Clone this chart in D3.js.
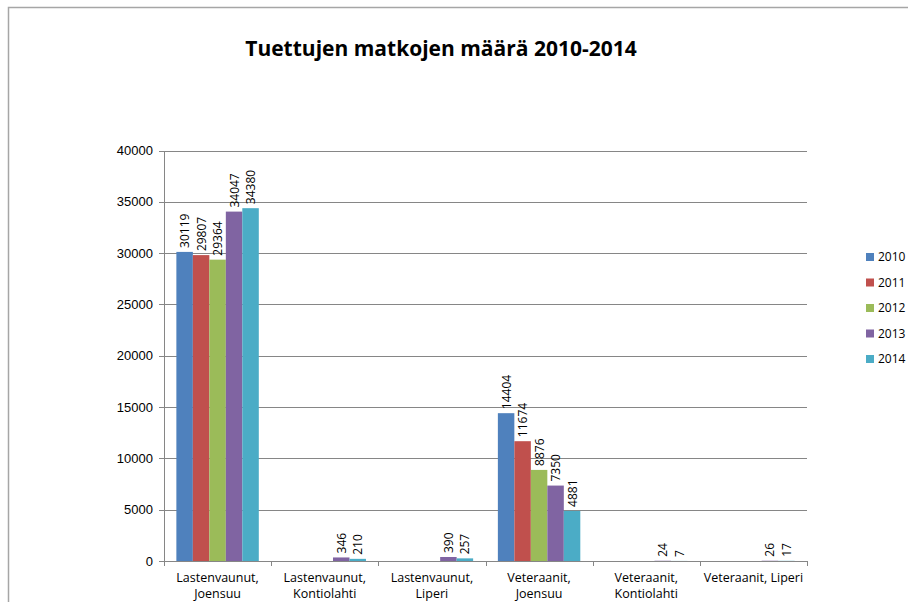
<!DOCTYPE html>
<html lang="fi">
<head>
<meta charset="UTF-8">
<title>Tuettujen matkojen määrä 2010-2014</title>
<script src="https://d3js.org/d3.v7.min.js"></script>
<style>
body { margin: 0; background: #fff; }
svg { font-family: "Open Sans", "Noto Sans", sans-serif; }
.axis path, .axis line { stroke: #868686; shape-rendering: crispEdges; }
.axis text { font-size: 13px; fill: #000; }
.grid line { stroke: #868686; shape-rendering: crispEdges; }
.label { font-size: 12px; fill: #000; }
.legendTxt { font-size: 12px; fill: #000; }
</style>
</head>
<body>
<script>
var width = 908, height = 602;

// data
var categories = ["Lastenvaunut, Joensuu", "Lastenvaunut, Kontiolahti", "Lastenvaunut, Liperi",
                  "Veteraanit, Joensuu", "Veteraanit, Kontiolahti", "Veteraanit, Liperi"];
var years = ["2010", "2011", "2012", "2013", "2014"];
var v2010 = [30119, null, null, 14404, null, null];
var v2011 = [29807, null, null, 11674, null, null];
var v2012 = [29364, null, null, 8876, null, null];
var v2013 = [34047, 346, 390, 7350, 24, 26];
var v2014 = [34380, 210, 257, 4881, 7, 17];
var yTicks = [0, 5000, 10000, 15000, 20000, 25000, 30000, 35000, 40000];
var colors = ["#4F81BD", "#C0504D", "#9BBB59", "#8064A2", "#4BACC6"];

var series = [v2010, v2011, v2012, v2013, v2014];

var svg = d3.select("body").append("svg")
    .attr("width", width)
    .attr("height", height);

// chart frame
svg.append("rect")
    .attr("x", 8.5).attr("y", 7.5)
    .attr("width", 1000).attr("height", 1000)
    .attr("fill", "none").attr("stroke", "#a6a6a6").attr("stroke-width", 1.5);

// title
svg.append("text")
    .attr("x", 441).attr("y", 56)
    .attr("text-anchor", "middle")
    .style("font-size", "21px").style("font-weight", "bold")
    .text("Tuettujen matkojen määrä 2010-2014");

// scales
var x0 = d3.scaleBand().domain(categories).range([164, 807]).padding(0);
var x1 = d3.scaleBand().domain(years).range([0, x0.bandwidth()])
    .paddingInner(0).paddingOuter(0.75);
var y = d3.scaleLinear().domain([0, 40000]).range([561, 150.5]);
var color = d3.scaleOrdinal().domain(years).range(colors);

// gridlines
svg.append("g").attr("class", "grid")
    .selectAll("line").data(yTicks.slice(1)).enter()
    .append("line")
    .attr("x1", 164).attr("x2", 807)
    .attr("y1", function(d) { return Math.round(y(d)) + 0.5; })
    .attr("y2", function(d) { return Math.round(y(d)) + 0.5; });

// y axis
svg.append("g").attr("class", "axis")
    .attr("transform", "translate(164,0)")
    .call(d3.axisLeft(y).tickValues(yTicks).tickSize(5).tickPadding(6).tickFormat(d3.format("d")));

// x axis
var xAxis = svg.append("g").attr("class", "axis")
    .attr("transform", "translate(0,561)")
    .call(d3.axisBottom(x0).tickSize(0).tickFormat(""));
xAxis.selectAll(".tick").remove();
xAxis.selectAll(".sep").data(d3.range(categories.length + 1)).enter()
    .append("line").attr("class", "sep")
    .attr("x1", function(i) { return Math.round(164 + i * x0.step()) + 0.5; })
    .attr("x2", function(i) { return Math.round(164 + i * x0.step()) + 0.5; })
    .attr("y1", 0).attr("y2", 5);

// category labels, wrapped at the space when too wide
var catLabels = svg.append("g").selectAll("text")
    .data(categories).enter()
    .append("text")
    .attr("class", "label")
    .style("font-size", "12.5px")
    .attr("text-anchor", "middle")
    .attr("x", function(d) { return x0(d) + x0.bandwidth() / 2; })
    .attr("y", 582)
    .text(function(d) { return d; });
catLabels.each(function(d) {
    var t = d3.select(this);
    if (this.getComputedTextLength() > x0.bandwidth()) {
        var parts = d.split(" ");
        t.text(null);
        parts.forEach(function(p, i) {
            t.append("tspan")
                .attr("x", x0(d) + x0.bandwidth() / 2)
                .attr("dy", i === 0 ? 0 : 16)
                .text(p);
        });
    }
});

// bars
var rows = [];
categories.forEach(function(c, ci) {
    years.forEach(function(yr, si) {
        if (series[si][ci] != null) rows.push({cat: c, year: yr, value: series[si][ci]});
    });
});

svg.append("g").selectAll("rect")
    .data(rows).enter()
    .append("rect")
    .attr("x", function(d) { return x0(d.cat) + x1(d.year); })
    .attr("width", x1.bandwidth())
    .attr("y", function(d) { return y(d.value); })
    .attr("height", function(d) { return y(0) - y(d.value); })
    .attr("fill", function(d) { return color(d.year); });

// value labels
svg.append("g").selectAll("text")
    .data(rows).enter()
    .append("text")
    .attr("class", "label")
    .attr("transform", function(d) {
        var cx = x0(d.cat) + x1(d.year) + x1.bandwidth() / 2;
        return "translate(" + (cx + 4.5) + "," + (y(d.value) - 4) + ") rotate(-90)";
    })
    .text(function(d) { return d.value; });

// legend
var legend = svg.append("g").selectAll("g")
    .data(years).enter()
    .append("g")
    .attr("transform", function(d, i) { return "translate(866," + (257 + i * 25.5) + ")"; });
legend.append("rect")
    .attr("x", 0).attr("y", -4)
    .attr("width", 8).attr("height", 8)
    .attr("fill", function(d) { return color(d); });
legend.append("text")
    .attr("class", "legendTxt")
    .attr("x", 12).attr("dy", "0.35em")
    .text(function(d) { return d; });
</script>
</body>
</html>
